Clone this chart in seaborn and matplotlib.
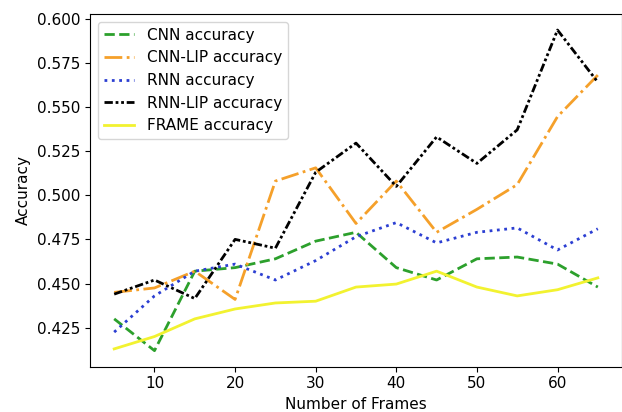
import pandas as pd
import matplotlib
matplotlib.use("Agg")
import matplotlib.pyplot as plt
import seaborn as sns

# --- data ---
frames = [5, 10, 15, 20, 25, 30, 35, 40, 45, 50, 55, 60, 65]
cnn_acc = [0.430, 0.412, 0.457, 0.459, 0.464, 0.474, 0.479, 0.459, 0.452, 0.464, 0.465, 0.461, 0.448]
cnn_lip_acc = [0.445, 0.4475, 0.457, 0.441, 0.508, 0.5155, 0.484, 0.508, 0.479, 0.492, 0.506, 0.5445, 0.568]
rnn_acc = [0.4225, 0.443, 0.457, 0.461, 0.452, 0.463, 0.4765, 0.4845, 0.473, 0.479, 0.4815, 0.469, 0.481]
rnn_lip_acc = [0.444, 0.452, 0.4415, 0.475, 0.470, 0.513, 0.5295, 0.505, 0.533, 0.518, 0.537, 0.5935, 0.564]
frame_acc = [0.413, 0.420, 0.430, 0.4356, 0.439, 0.440, 0.448, 0.4497, 0.457, 0.448, 0.443, 0.4465, 0.4532]

series = [
    ("CNN accuracy", cnn_acc, "#2ca02c", "--"),
    ("CNN-LIP accuracy", cnn_lip_acc, "#f5a02a", "-."),
    ("RNN accuracy", rnn_acc, "#2c3fd2", ":"),
    ("RNN-LIP accuracy", rnn_lip_acc, "black", (0, (3, 1, 1, 1, 1, 1))),
    ("FRAME accuracy", frame_acc, "#f2f230", "-"),
]

plt.rcParams["font.size"] = 11

fig = plt.figure(figsize=(6.22, 4.12), dpi=100)
# right spine sits just past the image edge, as in the cropped original
ax = fig.add_axes([90 / 622, (412 - 366.7) / 412, 532 / 622, (366.7 - 14) / 412])

for name, vals, color, ls in series:
    sns.lineplot(x=frames, y=vals, ax=ax, color=color, linestyle=ls,
                 linewidth=2, label=name)

ax.set_xlabel("Number of Frames")
ax.set_ylabel("Accuracy")
ax.set_xticks([10, 20, 30, 40, 50, 60])
ax.set_yticks([0.425, 0.450, 0.475, 0.500, 0.525, 0.550, 0.575, 0.600])
ax.legend(loc="upper left")

fig.savefig("out.png", dpi=100)
